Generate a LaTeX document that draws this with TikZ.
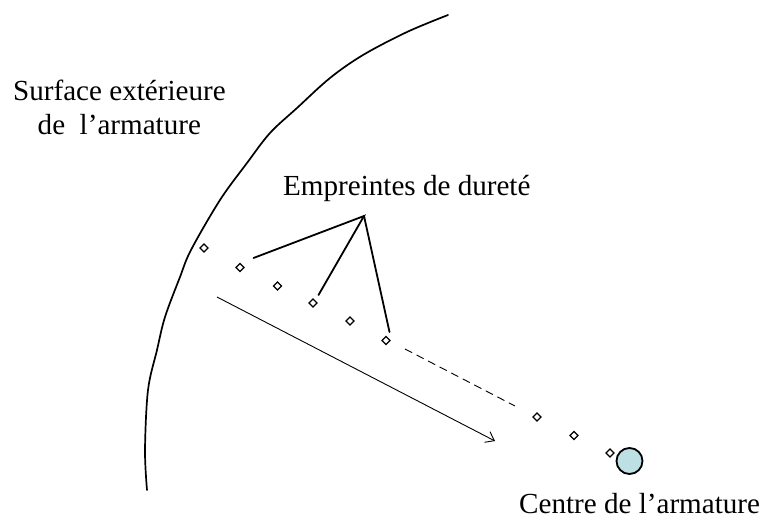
\documentclass[tikz,border=0pt]{standalone}
\usepackage{fontspec}
\setmainfont{Liberation Serif}
\usetikzlibrary{arrows.meta,shapes.geometric}
\definecolor{hub}{HTML}{BCE0E3}
\tikzset{
  imprint/.style={diamond,draw=black,line width=1.2pt,fill=white,minimum size=8.5pt,inner sep=0pt},
  thick line/.style={line width=1.8pt,line cap=round},
  thin line/.style={line width=0.9pt},
  lab/.style={anchor=base west,inner sep=0pt,font=\fontsize{29.1}{34}\selectfont},
}
\begin{document}
\begin{tikzpicture}[x=1pt,y=-1pt]
\useasboundingbox (0,0) rectangle (763,518);
\draw[line width=1.7pt,line cap=round] plot[smooth,tension=0.55] coordinates {(147,490) (145,450) (148,390) (157,350) (165,317) (180,277) (191,250) (220,200) (247,163) (270,133) (297,108) (330,78) (363,55) (407,32) (448,15)};
\node[imprint] (d1) at (204,248) {};
\node[imprint] (d2) at (240,267.5) {};
\node[imprint] (d3) at (277.5,286) {};
\node[imprint] (d4) at (313,303) {};
\node[imprint] (d5) at (350,321) {};
\node[imprint] (d6) at (386,340.5) {};
\node[imprint] (d7) at (537,417) {};
\node[imprint] (d8) at (574,435.5) {};
\node[imprint] (d9) at (610,453) {};
\node[circle,draw=black,line width=1.8pt,fill=hub,minimum size=26pt,inner sep=0pt] (hub) at (629.5,461) {};
\coordinate (apex) at (364,216);
\coordinate (a1) at (253.5,258);
\coordinate (a2) at (318.5,295);
\coordinate (a3) at (389.5,332);
\draw[thick line] (a1) -- (apex) -- (a2);
\draw[thick line] (apex) -- (a3);
\coordinate (s) at (217,297);
\coordinate (e) at (495,441);
\draw[thin line,-{Straight Barb[length=8pt,width=12pt]}] (s) -- (e);
\coordinate (ds) at (405,349);
\coordinate (de) at (515,406);
\draw[thin line,dash pattern=on 8pt off 5pt] (ds) -- (de);
\node[lab] (t1) at (13,101) {Surface extérieure};
\node[lab] (t2) at (37.5,135) {de\ \ l’armature};
\node[lab] (t3) at (283,196) {Empreintes de dureté};
\node[lab] (t4) at (519,513) {Centre de l’armature};
\end{tikzpicture}
\end{document}
